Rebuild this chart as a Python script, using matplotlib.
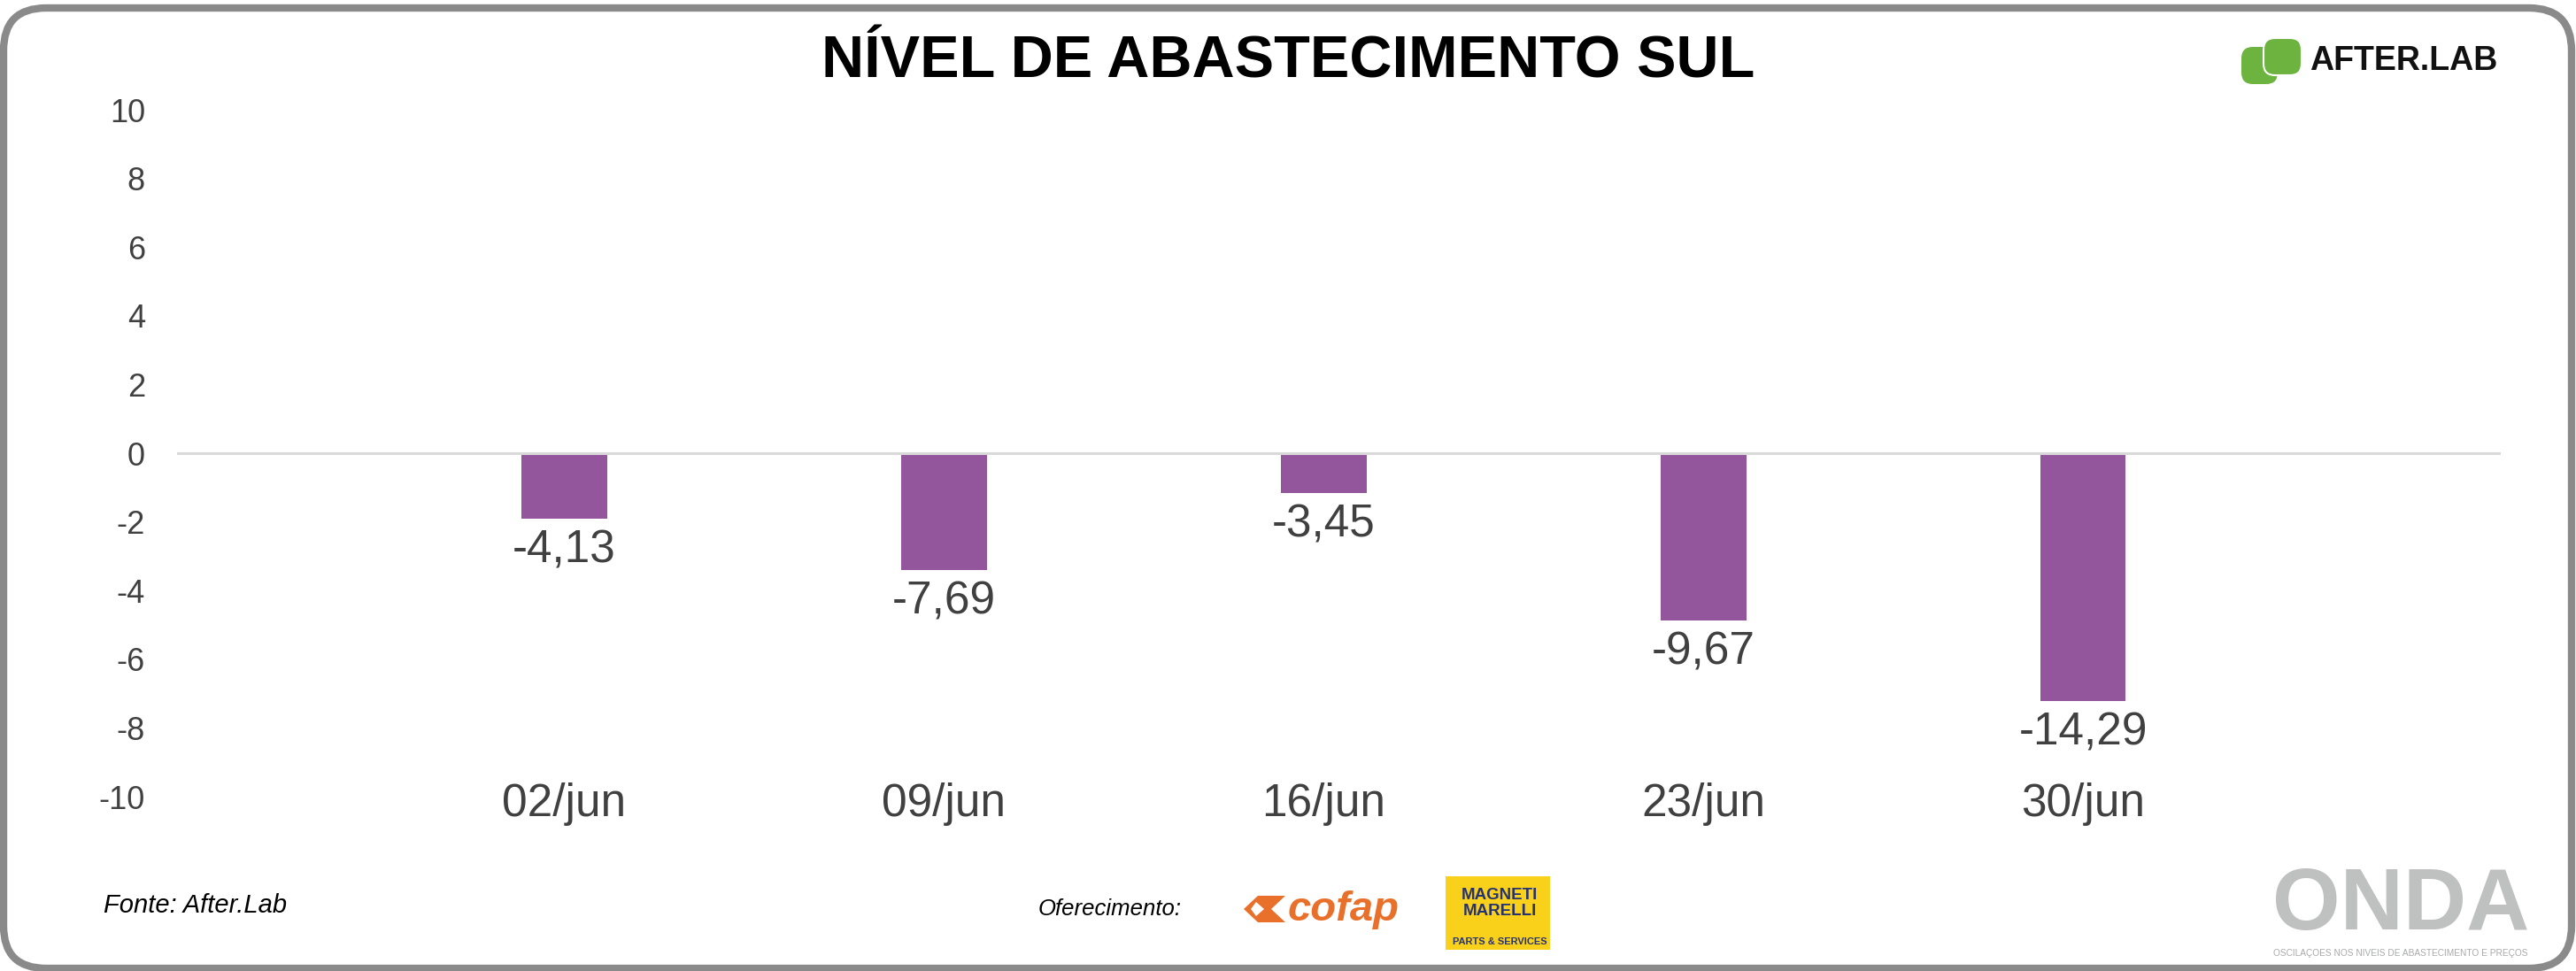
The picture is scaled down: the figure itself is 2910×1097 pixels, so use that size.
import matplotlib.pyplot as plt
import numpy as np
from matplotlib.patches import FancyBboxPatch, Polygon, Rectangle

# data
categories = ['02/jun', '09/jun', '16/jun', '23/jun', '30/jun']
bar_values = [-1.91, -3.40, -1.15, -4.88, -7.22]
label_texts = ['-4,13', '-7,69', '-3,45', '-9,67', '-14,29']
y_ticks = [-10, -8, -6, -4, -2, 0, 2, 4, 6, 8, 10]

W, H = 2910, 1097
DPI = 100
TEXT = '#404040'
BAR = '#93569D'
SANS = ['Liberation Sans', 'DejaVu Sans']

plt.rcParams['font.family'] = SANS

fig = plt.figure(figsize=(W / DPI, H / DPI), dpi=DPI)
fig.patch.set_facecolor('white')

# main chart area (pixel layout from reference)
ax = fig.add_axes([200 / W, 1 - 900 / H, 2625 / W, 776 / H])
x = np.arange(len(categories))
ax.bar(x, bar_values, width=0.225, color=BAR, zorder=2)
ax.axhline(0, color='#D9D9D9', lw=2.2, zorder=3)

for xi, val, txt in zip(x, bar_values, label_texts):
    ax.annotate(txt, (xi, val), xytext=(0, -26), textcoords='offset points',
                ha='center', va='center', fontsize=37, color=TEXT)

ax.set_xlim(-1.02, 5.10)
ax.set_ylim(-10, 10)
ax.set_yticks(y_ticks)
ax.set_yticklabels([str(t) for t in y_ticks])
ax.set_xticks(x)
ax.set_xticklabels(categories)
ax.tick_params(axis='y', length=0, pad=26, labelsize=26, labelcolor=TEXT)
ax.tick_params(axis='x', length=0, pad=6, labelsize=37, labelcolor=TEXT)
for lab in ax.get_xticklabels():
    lab.set_verticalalignment('center')
for s in ax.spines.values():
    s.set_visible(False)

# overlay in pixel coordinates for frame, title, logos
deco = fig.add_axes([0, 0, 1, 1], zorder=5)
deco.set_xlim(0, W)
deco.set_ylim(H, 0)
deco.axis('off')
deco.patch.set_alpha(0)

deco.add_patch(FancyBboxPatch((4, 9), W - 9, H - 12,
                              boxstyle='round,pad=0,rounding_size=48',
                              fc='none', ec='#8A8A8A', lw=6))

deco.text(W / 2, 70, 'NÍVEL DE ABASTECIMENTO SUL', ha='center', va='center',
          fontsize=48, fontweight='bold', color='black')

# AFTER.LAB logo
green = '#6DB33F'
deco.add_patch(FancyBboxPatch((2532, 53), 41, 42, boxstyle='round,pad=0,rounding_size=13',
                              fc=green, ec='none'))
deco.add_patch(FancyBboxPatch((2557, 43), 43, 42, boxstyle='round,pad=0,rounding_size=13',
                              fc=green, ec='white', lw=1.5))
deco.text(2609, 69, 'AFTER.LAB', ha='left', va='center', fontsize=27,
          fontweight='bold', color='#111111')

# footer texts
deco.text(117, 1023, 'Fonte: After.Lab', ha='left', va='center', fontsize=21,
          style='italic', color='black')
deco.text(1173, 1027, 'Oferecimento:', ha='left', va='center', fontsize=18.5,
          style='italic', color='black')

# cofap logo
orange = '#E8702A'
deco.add_patch(Polygon([(1405, 1027), (1421, 1012), (1452, 1012), (1436, 1027),
                        (1452, 1042), (1421, 1042)], closed=True, fc=orange, ec='none'))
deco.add_patch(Polygon([(1419, 1019), (1428, 1027), (1419, 1035), (1413, 1027)],
                       closed=True, fc='white', ec='none'))
deco.text(1455, 1028, 'cofap', ha='left', va='center', fontsize=34,
          fontweight='bold', style='italic', color=orange)

# Magneti Marelli logo
navy = '#27336F'
deco.add_patch(Rectangle((1633, 990), 118, 83, fc='#F9D11B', ec='none'))
deco.text(1694, 1011, 'MAGNETI', ha='center', va='center', fontsize=13.5,
          fontweight='bold', color=navy)
deco.text(1694, 1030, 'MARELLI', ha='center', va='center', fontsize=13.5,
          fontweight='bold', color=navy)
deco.text(1694, 1064, 'PARTS & SERVICES', ha='center', va='center', fontsize=8,
          fontweight='bold', color=navy)

# ONDA logo
deco.text(2712, 1050, 'ONDA', ha='center', va='baseline', fontsize=71,
          fontweight='bold', color='#BFC1C0')
deco.text(2712, 1077, 'OSCILAÇOES NOS NIVEIS DE ABASTECIMENTO E PREÇOS', ha='center',
          va='center', fontsize=7.3, color='#A8AAA9')

fig.savefig('out.png', dpi=DPI, facecolor='white')
